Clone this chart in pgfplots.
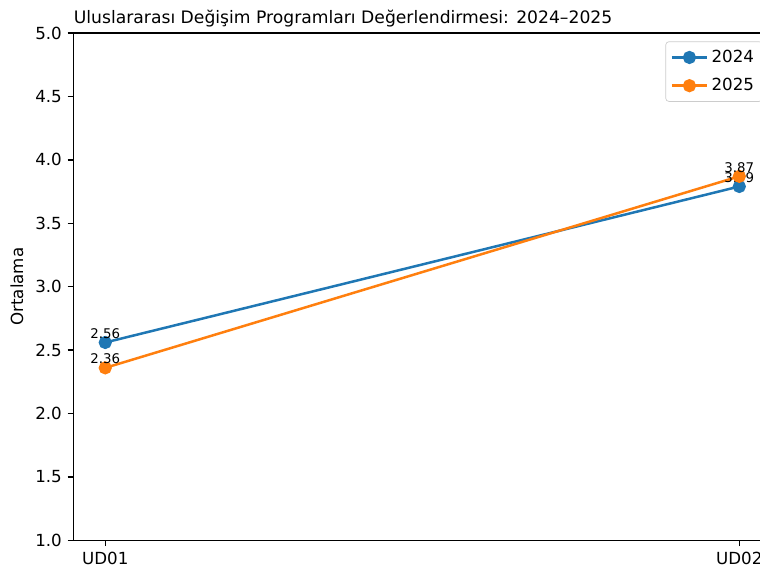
\documentclass[border=0pt]{standalone}
\usepackage{fontspec}
\setmainfont{DejaVu Sans}
\usepackage{pgfplots}
\pgfplotsset{compat=1.18}
\definecolor{tabblue}{HTML}{1F77B4}
\definecolor{taborange}{HTML}{FF7F0E}
\begin{document}
\begin{tikzpicture}
\begin{axis}[
  scale only axis,
  width=418.2pt, height=304.2pt,
  xmin=-0.05, xmax=1.05,
  ymin=1, ymax=5,
  xtick={0,1}, xticklabels={UD01,UD02},
  ytick={1,1.5,2,2.5,3,3.5,4,4.5,5},
  /pgf/number format/assume math mode=true,
  yticklabel style={/pgf/number format/.cd, fixed, fixed zerofill, precision=1},
  tick align=outside, tick pos=left,
  major tick length=3.5pt,
  tick style={black, line width=0.8pt},
  ticklabel style={font=\fontsize{10}{12}\selectfont},
  axis line style={black, line width=0.8pt},
  every axis title shift=0pt,
  title={Uluslararası Değişim Programları Değerlendirmesi: 2024–2025},
  title style={at={(rel axis cs:0,1)}, anchor=base west, inner sep=0pt, yshift=6pt, font=\fontsize{10.3}{12}\selectfont},
  ylabel={Ortalama},
  ylabel style={at={(rel axis cs:0,0.5)}, anchor=center, yshift=34pt, font=\fontsize{10}{12}\selectfont},
  legend style={at={(rel axis cs:1,1)}, xshift=-5pt, yshift=-5pt, anchor=north east, draw=black!20, rounded corners=2pt, font=\fontsize{10}{12}\selectfont, row sep=4pt, inner xsep=3pt, inner ysep=3pt, cells={anchor=west}},
  legend image code/.code={\draw[mark repeat=2, mark phase=2, #1] plot coordinates {(0pt,0pt) (10.5pt,0pt) (21pt,0pt)};},
  nodes near coords,
  nodes near coords style={anchor=south, inner sep=0pt, yshift=1.5pt, text=black, font=\fontsize{8}{9}\selectfont, /pgf/number format/.cd, fixed, fixed zerofill, precision=2},
]
\addplot[color=tabblue, line width=1.5pt, mark=*, mark size=3.2pt, mark options={solid, fill=tabblue, draw=tabblue}] coordinates {(0,2.56) (1,3.79)};
\addlegendentry{2024}
\addplot[color=taborange, line width=1.5pt, mark=*, mark size=3.2pt, mark options={solid, fill=taborange, draw=taborange}] coordinates {(0,2.36) (1,3.87)};
\addlegendentry{2025}
\coordinate (bl) at (rel axis cs:0,0);
\coordinate (tr) at (rel axis cs:1,1);
\end{axis}
\pgfresetboundingbox
\path[use as bounding box] ([shift={(-44.1pt,-20.4pt)}]bl) rectangle ([shift={(-6.6pt,19.8pt)}]tr);
\end{tikzpicture}
\end{document}
